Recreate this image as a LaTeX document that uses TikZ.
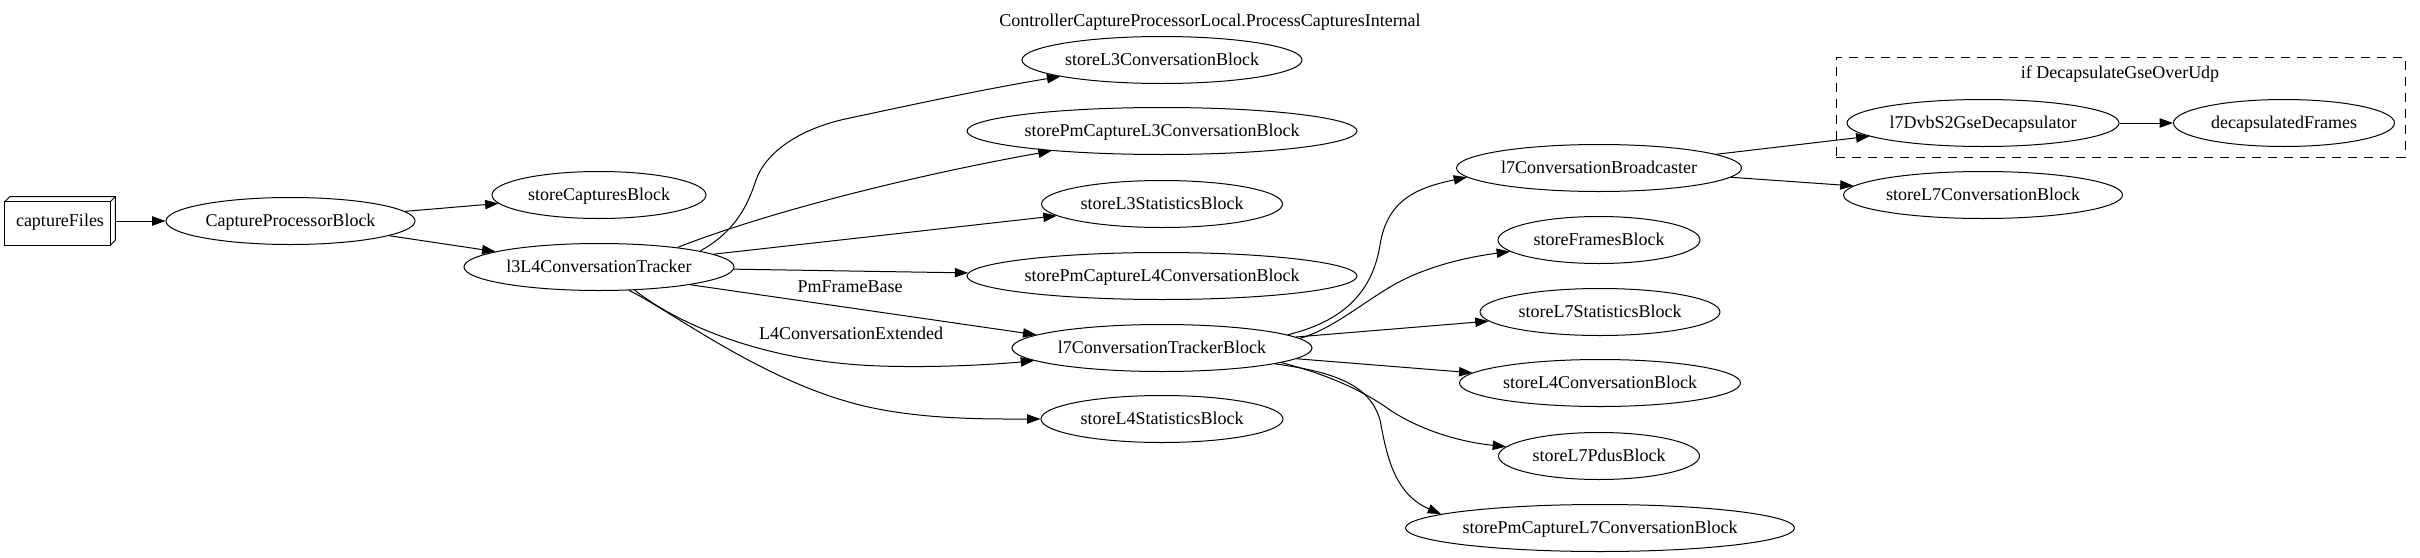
\documentclass[tikz,border=0pt]{standalone}
\usepackage{fontspec}
\setmainfont{Liberation Serif}
\usetikzlibrary{arrows.meta,shapes.geometric,calc}
\newcommand{\nodetxt}[1]{\makebox[0pt]{#1}}
\begin{document}
\begin{tikzpicture}[x=0.75pt,y=-0.75pt,
  every node/.style={font=\fontsize{13.5}{16}\selectfont, inner sep=0pt, text height=9.5pt, text depth=2pt},
  ell/.style={ellipse, draw, line width=0.75pt, minimum height=35.25pt, minimum width=#1*0.75pt},
  arr/.style={-{Triangle[length=10pt,width=7pt]}, line width=0.75pt},
  clusterbox/.style={draw, line width=0.75pt, dash pattern=on 7pt off 5pt, minimum width=569*0.75pt, minimum height=100*0.75pt},
  box3d/.style={minimum width=110*0.75pt, minimum height=48*0.75pt}
]
\useasboundingbox (0,0) rectangle (2420,557);

% title and cluster
\node (title) at (1210,21) {ControllerCaptureProcessorLocal.ProcessCapturesInternal};
\node[clusterbox] (cl) at (2120.5,107) {};
\node (cllbl) at (2120,73) {if DecapsulateGseOverUdp};

% captureFiles (box3d)
\node[box3d] (cf) at (60,221) {captureFiles};
\draw[line width=0.75pt] (cf.south west) rectangle ($(cf.north east)+(-5,5)$);
\draw[line width=0.75pt] ($(cf.north west)+(0,5)$) -- ($(cf.north west)+(5,0)$) -- (cf.north east) -- ($(cf.south east)+(0,-5)$) -- ($(cf.south east)+(-5,0)$);
\draw[line width=0.75pt] ($(cf.north east)+(-5,5)$) -- (cf.north east);

% ellipses
\node[ell=249] (cpb) at (290.5,221) {\nodetxt{CaptureProcessorBlock}};
\node[ell=214] (scb) at (599,195) {\nodetxt{storeCapturesBlock}};
\node[ell=270] (l34) at (599,267) {\nodetxt{l3L4ConversationTracker}};

\node[ell=280] (sl3c) at (1162,60) {\nodetxt{storeL3ConversationBlock}};
\node[ell=390] (spl3) at (1162,131) {\nodetxt{storePmCaptureL3ConversationBlock}};
\node[ell=241] (sl3s) at (1162,204) {\nodetxt{storeL3StatisticsBlock}};
\node[ell=390] (spl4) at (1162,276) {\nodetxt{storePmCaptureL4ConversationBlock}};
\node[ell=300] (l7t) at (1162,348) {\nodetxt{l7ConversationTrackerBlock}};
\node[ell=242] (sl4s) at (1162,419) {\nodetxt{storeL4StatisticsBlock}};

\node[ell=285] (l7b) at (1599,168) {\nodetxt{l7ConversationBroadcaster}};
\node[ell=202] (sfb) at (1599,240) {\nodetxt{storeFramesBlock}};
\node[ell=240] (sl7s) at (1600,312) {\nodetxt{storeL7StatisticsBlock}};
\node[ell=281] (sl4c) at (1600,383) {\nodetxt{storeL4ConversationBlock}};
\node[ell=201] (sl7p) at (1599,456) {\nodetxt{storeL7PdusBlock}};
\node[ell=389] (spl7) at (1600,528) {\nodetxt{storePmCaptureL7ConversationBlock}};

\node[ell=272] (dvb) at (1983,123) {\nodetxt{l7DvbS2GseDecapsulator}};
\node[ell=279] (sl7c) at (1983,195) {\nodetxt{storeL7ConversationBlock}};
\node[ell=221] (dcf) at (2284,123) {\nodetxt{decapsulatedFrames}};

% edge labels
\node (lpm) at (850,287) {PmFrameBase};
\node (l4x) at (851,334) {L4ConversationExtended};

% edges
\draw[arr] (cf) -- (cpb);
\draw[arr] (cpb) -- (scb);
\draw[arr] (cpb) -- (l34);

\draw[arr] (l34.9) .. controls (735,232) and (748,205) .. (756,180) .. controls (766,152) and (800,128) .. (850,118) .. controls (920,103) and (990,88) .. (sl3c);
\draw[arr] (l34.14) .. controls (760,215) and (900,178) .. (spl3);
\draw[arr] (l34) -- (sl3s);
\draw[arr] (l34) -- (spl4);
\draw[arr] (l34.-11) -- (l7t.174);
\draw[arr] (l34.-33) .. controls (675,322) and (760,362) .. (880,366) .. controls (940,368) and (1000,364) .. (l7t);
\draw[arr] (l34.-38) .. controls (670,310) and (760,380) .. (860,405) .. controls (920,420) and (990,419) .. (sl4s);

\draw[arr] (l7t.6) .. controls (1340,322) and (1372,295) .. (1380,245) .. controls (1387,201) and (1415,188) .. (l7b.184);
\draw[arr] (l7t.4) .. controls (1330,330) and (1360,305) .. (1390,287) .. controls (1420,269) and (1460,258) .. (sfb);
\draw[arr] (l7t) -- (sl7s);
\draw[arr] (l7t) -- (sl4c);
\draw[arr] (l7t.-7) .. controls (1330,375) and (1365,392) .. (1390,410) .. controls (1420,430) and (1460,442) .. (sl7p);
\draw[arr] (l7t.-8) .. controls (1335,372) and (1370,385) .. (1380,420) .. controls (1386,450) and (1392,493) .. (spl7.175);

\draw[arr] (l7b) -- (dvb);
\draw[arr] (l7b) -- (sl7c);
\draw[arr] (dvb) -- (dcf);
\end{tikzpicture}
\end{document}
